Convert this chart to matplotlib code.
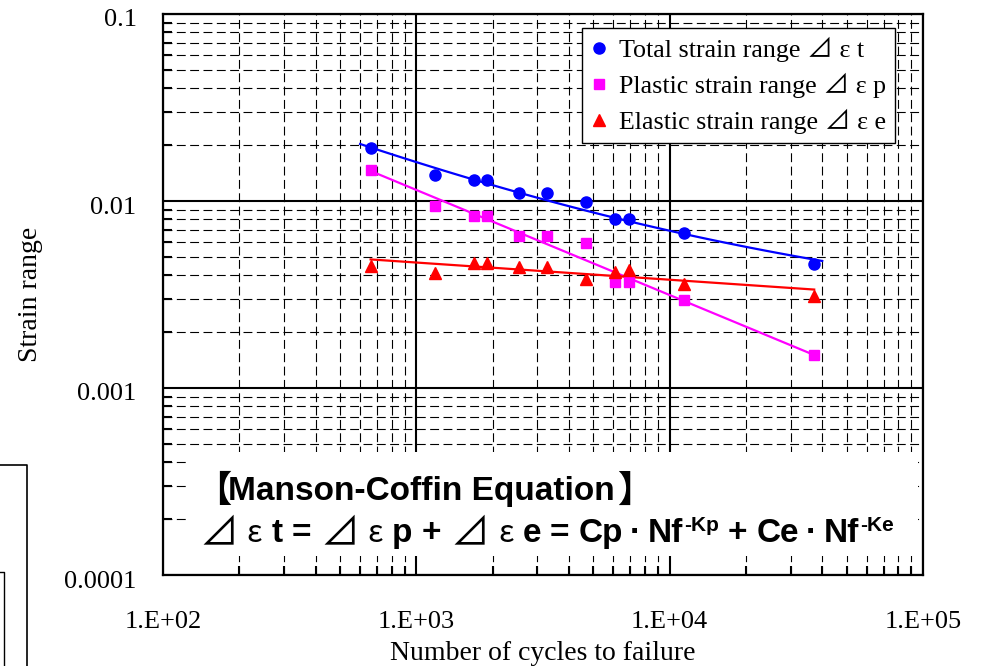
import matplotlib
matplotlib.use("Agg")
import matplotlib.pyplot as plt
import matplotlib.transforms as mtransforms
import numpy as np
from matplotlib.font_manager import FontProperties
from matplotlib.lines import Line2D
from matplotlib.patches import Rectangle
from matplotlib.ticker import FixedLocator, FixedFormatter, LogLocator, NullFormatter

# measured fatigue data
cycles = [665, 1190, 1690, 1900, 2550, 3280, 4670, 6070, 6900, 11350, 37200]
total_strain = [0.0193, 0.0138, 0.0130, 0.0130, 0.0110, 0.0110, 0.00988, 0.0080, 0.0080, 0.00673, 0.00458]
plastic_strain = [0.0147, 0.0094, 0.0083, 0.0083, 0.00648, 0.00648, 0.00594, 0.00371, 0.00371, 0.00297, 0.00150]
elastic_strain = [0.00447, 0.00410, 0.00464, 0.00464, 0.00442, 0.00442, 0.00385, 0.00415, 0.00425, 0.00362, 0.00309]

# Manson-Coffin fit parameters
Cp, Kp = 0.556, 0.562
Ce, Ke = 0.00885, 0.092
fit_range = [660, 37200]
total_fit_range = [600, 40000]

x_ticks = [1e2, 1e3, 1e4, 1e5]
x_ticklabels = ["1.E+02", "1.E+03", "1.E+04", "1.E+05"]
y_ticks = [1e-4, 1e-3, 1e-2, 1e-1]
y_ticklabels = ["0.0001", "0.001", "0.01", "0.1"]

legend_labels = ["Total strain range ⊿ ε t",
                 "Plastic strain range ⊿ ε p",
                 "Elastic strain range ⊿ ε e"]

plt.rcParams["font.family"] = ["Liberation Serif", "Noto Sans CJK JP", "DejaVu Sans"]

W, H = 986, 666
fig = plt.figure(figsize=(W / 100, H / 100), dpi=100)
ax = fig.add_axes([163 / W, 1 - 575 / H, 760 / W, 561 / H])
ax.set_xscale("log")
ax.set_yscale("log")
ax.set_xlim(1e2, 1e5)
ax.set_ylim(1e-4, 1e-1)

# fitted lines
n_fit = np.logspace(np.log10(fit_range[0]), np.log10(fit_range[1]), 100)
n_tot = np.logspace(np.log10(total_fit_range[0]), np.log10(total_fit_range[1]), 100)
ax.plot(n_tot, Cp * n_tot ** -Kp + Ce * n_tot ** -Ke, color="#0000ff", lw=1.6, zorder=3)
ax.plot(n_fit, Cp * n_fit ** -Kp, color="#ff00ff", lw=1.6, zorder=3)
ax.plot(n_fit, Ce * n_fit ** -Ke, color="#ff0000", lw=1.6, zorder=3)

# data points
h1, = ax.plot(cycles, total_strain, "o", color="#0000ff", ms=8, ls="none", zorder=4)
h2, = ax.plot(cycles, plastic_strain, "s", color="#ff00ff", ms=7.5, ls="none", zorder=4)
h3, = ax.plot(cycles, elastic_strain, "^", color="#ff0000", ms=8.5, ls="none", zorder=4)

# ticks and grid
ax.xaxis.set_major_locator(FixedLocator(x_ticks))
ax.xaxis.set_major_formatter(FixedFormatter(x_ticklabels))
ax.yaxis.set_major_locator(FixedLocator(y_ticks))
ax.yaxis.set_major_formatter(FixedFormatter(y_ticklabels))
ax.xaxis.set_minor_locator(LogLocator(base=10, subs=np.arange(2, 10)))
ax.yaxis.set_minor_locator(LogLocator(base=10, subs=np.arange(2, 10)))
ax.xaxis.set_minor_formatter(NullFormatter())
ax.yaxis.set_minor_formatter(NullFormatter())
ax.tick_params(which="both", direction="in", width=1.5, labelsize=19)
ax.tick_params(which="major", length=0)
ax.tick_params(which="minor", length=6.5)
ax.tick_params(axis="x", which="major", pad=26)
ax.tick_params(axis="y", which="major", pad=19)
ax.set_axisbelow(True)
ax.grid(True, which="major", color="black", lw=1.5, ls="-")
ax.grid(True, which="minor", color="black", lw=0.8, ls=(0, (8, 4)))
for sp in ax.spines.values():
    sp.set_linewidth(1.6)

shift = mtransforms.ScaledTranslation(0, -4 / 100, fig.dpi_scale_trans)
for lab in ax.get_yticklabels():
    lab.set_transform(lab.get_transform() + shift)

ax.set_xlabel("Number of cycles to failure", fontsize=20)
ax.set_ylabel("Strain range", fontsize=20)
ax.xaxis.set_label_coords(0.5, -0.117)
ax.yaxis.set_label_coords(-0.158, 0.5)

leg = ax.legend([h1, h2, h3], legend_labels, loc="upper right",
                bbox_to_anchor=((895 - 163) / 760, (575 - 28) / 561),
                borderaxespad=0, fancybox=False, framealpha=1, edgecolor="black",
                handlelength=0.6, handletextpad=0.45, borderpad=0.35, labelspacing=0.42,
                prop=FontProperties(family=["Liberation Serif", "Noto Sans CJK JP"], size=18.7))
leg.get_frame().set_linewidth(1.0)

# white panel behind the equation
ax.add_patch(Rectangle(((188 - 163) / 760, (575 - 556) / 561), (918 - 188) / 760, (556 - 452) / 561,
                       transform=ax.transAxes, facecolor="white", edgecolor="none", zorder=1))

# equation text, laid out piece by piece in pixel coordinates
fig.canvas.draw()
renderer = fig.canvas.get_renderer()
bold = FontProperties(family=["Liberation Sans", "Noto Sans CJK JP"], weight="bold", size=24)
bracket = FontProperties(family=["Noto Sans CJK JP"], weight="bold", size=26)
tri = FontProperties(family=["Noto Sans CJK JP"], size=28)
eps = FontProperties(family=["Noto Sans CJK JP"], size=22)
sup = FontProperties(family=["Liberation Sans"], weight="bold", size=15)


def put_pieces(x, y, pieces):
    for s, prop, gap, rise in pieces:
        x += gap
        t = fig.text(x, H - y + rise, s, fontproperties=prop, va="baseline", ha="left",
                     transform=mtransforms.IdentityTransform())
        x += t.get_window_extent(renderer).width


put_pieces(195, 500, [("【", bracket, 0, -2)])
put_pieces(228, 500, [("Manson-Coffin Equation", bold, 0, 0), ("】", bracket, 2, -2)])
g = 9
put_pieces(199, 542, [
    ("⊿", tri, 0, -2), ("ε", eps, g, 0), ("t", bold, g, 0), ("=", bold, g, 0),
    ("⊿", tri, g, -2), ("ε", eps, g, 0), ("p", bold, g, 0), ("+", bold, g, 0),
    ("⊿", tri, g, -2), ("ε", eps, g, 0), ("e", bold, g, 0), ("=", bold, g, 0),
    ("Cp", bold, g, 0), ("·", bold, 7, 0), ("Nf", bold, 7, 0), ("-Kp", sup, 1, 11),
    ("+", bold, g, 0), ("Ce", bold, g, 0), ("·", bold, 7, 0), ("Nf", bold, 7, 0),
    ("-Ke", sup, 1, 11),
])

# stray frame edges at the lower left of the screenshot
fig.add_artist(Line2D([0, 27 / W, 27 / W], [1 - 465 / H, 1 - 465 / H, 0],
                      transform=fig.transFigure, color="black", lw=1.2))
fig.add_artist(Line2D([0, 4 / W, 4 / W], [1 - 572 / H, 1 - 572 / H, 0],
                      transform=fig.transFigure, color="black", lw=1.0))

fig.savefig("out.png", dpi=100)
